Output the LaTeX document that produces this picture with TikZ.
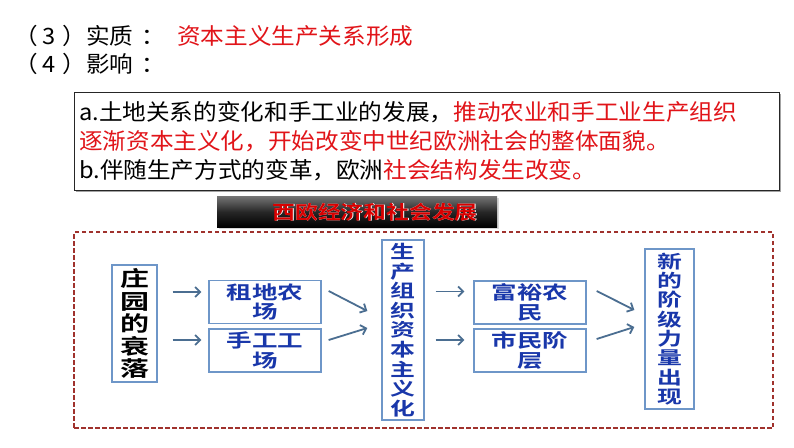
\documentclass[tikz,border=0pt]{standalone}
\usepackage{fontspec}
\usetikzlibrary{arrows.meta,calc,shadows}
\newfontfamily\cjk[FakeStretch=1.05]{Noto Sans CJK SC}
\newfontfamily\cjkbd[FakeStretch=1.38]{Noto Sans CJK SC Bold}
\newfontfamily\cjkttl[FakeStretch=1.2]{Noto Sans CJK SC Bold}
\definecolor{redtxt}{RGB}{225,20,25}
\definecolor{boxblue}{RGB}{110,150,200}
\definecolor{txtblue}{RGB}{25,55,170}
\definecolor{arrblue}{RGB}{75,110,145}
\definecolor{dashred}{RGB}{160,50,45}
\tikzset{
  flowbox/.style={draw=boxblue, line width=1.3pt, inner sep=0pt, fill=white, text=txtblue, align=center},
  hbox/.style={flowbox, minimum width=112, minimum height=43, font=\cjkbd\fontsize{18.5}{19.5}\selectfont},
  vbox/.style={flowbox, font=\cjkbd\fontsize{18}{19.6}\selectfont},
  arr/.style={draw=arrblue, line width=1.8pt, -{Straight Barb[length=5pt,width=10pt]}},
  headtext/.style={anchor=west, inner sep=0pt, font=\cjk\fontsize{22.5}{24}\selectfont}
}
\begin{document}
\begin{tikzpicture}[x=1pt,y=-1pt]
\useasboundingbox (0,0) rectangle (794,447);
\fill[white] (0,0) rectangle (794,447);
% heading lines
\node[headtext] (h3) at (14,36) {（\hspace{4.5pt}3\hspace{7pt}）实质\hspace{8pt}：};
\node[headtext, text=redtxt] (h3b) at (177,36) {资本主义生产关系形成};
\node[headtext] (h4) at (14,64) {（\hspace{4.5pt}4\hspace{7pt}）影响\hspace{8pt}：};
% top text box
\node[draw=black!85, line width=1pt, fill=white, minimum width=705, minimum height=98, inner sep=0pt,
  drop shadow={shadow xshift=2pt, shadow yshift=-2pt, fill=black!45, opacity=0.8}] (tb) at (426.5,141) {};
\node[anchor=west, align=left, inner sep=0pt, font=\cjk\fontsize{22.5}{28.8}\selectfont] (tt) at (79,141)
 {a.土地关系的变化和手工业的发展，\textcolor{redtxt}{推动农业和手工业生产组织}\\
  \textcolor{redtxt}{逐渐资本主义化，开始改变中世纪欧洲社会的整体面貌。}\\
  b.伴随生产方式的变革，欧洲\textcolor{redtxt}{社会结构发生改变。}};
% title banner
\node[minimum width=280, minimum height=31, inner sep=0pt, top color=black!55, bottom color=black, middle color=black!85,
  drop shadow={shadow xshift=2pt, shadow yshift=-1pt, fill=black!30}] (bn) at (357,212) {};
\node[text=white, font=\cjkttl\fontsize{19}{20}\selectfont] (bt0) at (375.6,212.6) {西欧经济和社会发展};
\node[text=red!85!black, font=\cjkttl\fontsize{19}{20}\selectfont] (bt) at (375,212) {西欧经济和社会发展};
% dashed frame
\node[draw=dashred, line width=1.4pt, dash pattern=on 4.5pt off 2.5pt, minimum width=699, minimum height=196, inner sep=0pt] (fr) at (423.5,330) {};
% boxes
\node[flowbox, text=black, minimum width=45, minimum height=117, font=\cjkbd\fontsize{21}{22.5}\selectfont] (zy) at (134.5,323.5) {庄\\园\\的\\衰\\落};
\node[hbox] (zd) at (265,302) {租地农\\场};
\node[hbox] (sg) at (265,350.5) {手工工\\场};
\node[vbox, minimum width=42, minimum height=180] (sc) at (403,330) {生\\产\\组\\织\\资\\本\\主\\义\\化};
\node[hbox] (fy) at (530,302.5) {富裕农\\民};
\node[hbox] (sm) at (530,350.5) {市民阶\\层};
\node[vbox, minimum width=49, minimum height=160, font=\cjkbd\fontsize{18}{19.3}\selectfont] (xd) at (669.5,329) {新\\的\\阶\\级\\力\\量\\出\\现};
% arrows
\draw[arr] ($(zy.east |- zd.west)+(15,-10)$) -- ($(zd.west)+(-7,-10)$);
\draw[arr] ($(zy.east |- sg.west)+(15,-10.5)$) -- ($(sg.west)+(-7,-10.5)$);
\draw[arr] ($(zd.east)+(7,-11)$) -- ($(sc.west)+(-14,-19)$);
\draw[arr] ($(sg.east)+(7,-10.5)$) -- ($(sc.west)+(-14,-2)$);
\draw[arr] ($(sc.east |- fy.west)+(11,-11)$) -- ($(fy.west)+(-9,-11)$);
\draw[arr] ($(sc.east |- sm.west)+(11,-10.5)$) -- ($(sm.west)+(-9,-10.5)$);
\draw[arr] ($(fy.east)+(10,-11.5)$) -- ($(xd.west)+(-10,-19)$);
\draw[arr] ($(sm.east)+(10,-11.5)$) -- ($(xd.west)+(-10,-2)$);
\end{tikzpicture}
\end{document}
